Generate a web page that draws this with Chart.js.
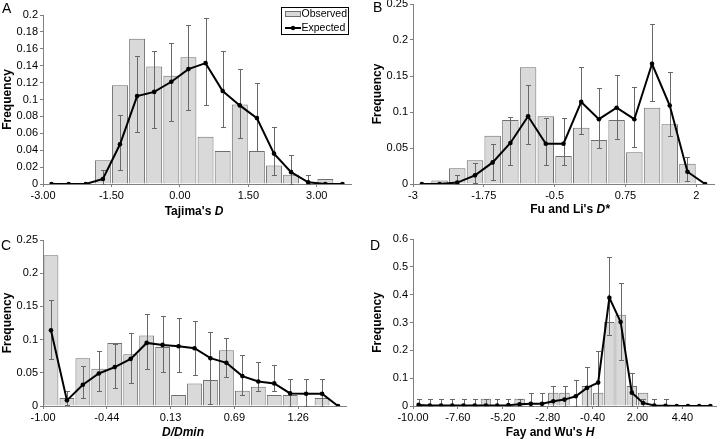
<!DOCTYPE html>
<html>
<head>
<meta charset="utf-8">
<script src="https://cdn.jsdelivr.net/npm/chart.js@4.4.0/dist/chart.umd.min.js"></script>
<style>
body { margin: 0; background: #fff; font-family: "Liberation Sans", Arial, sans-serif; }
#wrap { position: relative; width: 720px; height: 439px; overflow: hidden; }
canvas { position: absolute; }
.letter { position: absolute; font-size: 14px; line-height: 1; color: #000; }
.xtitle { position: absolute; font-size: 12px; font-weight: bold; line-height: 1; white-space: nowrap; transform: translateX(-50%); color: #000; }
</style>
</head>
<body>
<div id="wrap">
	<canvas id="chart-a" width="360" height="215" style="left:0;top:0"></canvas>
	<canvas id="chart-b" width="360" height="215" style="left:360px;top:0"></canvas>
	<canvas id="chart-c" width="360" height="224" style="left:0;top:215px"></canvas>
	<canvas id="chart-d" width="360" height="224" style="left:360px;top:215px"></canvas>
	<div class="letter" style="left:2px;top:1px">A</div>
	<div class="letter" style="left:373px;top:0">B</div>
	<div class="letter" style="left:1px;top:238px">C</div>
	<div class="letter" style="left:370px;top:238px">D</div>
	<div class="xtitle" style="left:194px;top:205px">Tajima's <i>D</i></div>
	<div class="xtitle" style="left:570px;top:203px">Fu and Li's <i>D*</i></div>
	<div class="xtitle" style="left:183px;top:426px"><i>D/Dmin</i></div>
	<div class="xtitle" style="left:550px;top:426px">Fay and Wu's <i>H</i></div>
</div>
<script>
// tick positions sit on bin boundaries, every 4th bin
var tickPos4 = [-0.5, 3.5, 7.5, 11.5, 15.5]
var tickPos7 = [-0.5, 3.5, 7.5, 11.5, 15.5, 19.5, 23.5]

// A: Tajima's D
var aTickLabels = ['-3.00', '-1.50', '0.00', '1.50', '3.00']
var aObserved = [0, 0, 0, 0.028, 0.117, 0.172, 0.139, 0.128, 0.150, 0.056, 0.039, 0.094, 0.039, 0.022, 0.011, 0, 0.006, 0]
var aExpected = [0, 0, 0, 0.006, 0.047, 0.104, 0.109, 0.121, 0.136, 0.143, 0.110, 0.093, 0.078, 0.036, 0.014, 0.002, 0, 0]
var aErrHi = [null, null, null, 0.017, 0.082, 0.151, 0.157, 0.167, 0.188, 0.196, 0.157, 0.136, 0.119, 0.067, 0.034, 0.011, null, null]
var aErrLo = [null, null, null, 0, 0.017, 0.062, 0.066, 0.074, 0.088, 0.094, 0.067, 0.054, 0.039, 0.011, 0, 0, null, null]

// B: Fu and Li's D*
var bTickLabels = ['-3', '-1.75', '-0.5', '0.75', '2']
var bObserved = [0, 0.005, 0.022, 0.033, 0.067, 0.089, 0.162, 0.094, 0.039, 0.078, 0.061, 0.089, 0.044, 0.106, 0.083, 0.028, 0]
var bExpected = [0, 0, 0.002, 0.012, 0.030, 0.057, 0.094, 0.056, 0.056, 0.114, 0.090, 0.106, 0.090, 0.167, 0.109, 0.017, 0]
var bErrHi = [null, null, 0.012, 0.029, 0.056, 0.093, 0.137, 0.091, 0.092, 0.162, 0.133, 0.152, 0.135, 0.222, 0.156, 0.038, null]
var bErrLo = [null, null, 0, 0.002, 0.006, 0.027, 0.055, 0.027, 0.027, 0.069, 0.050, 0.062, 0.051, 0.115, 0.066, 0.004, null]

// C: D/Dmin
var cTickLabels = ['-1.00', '-0.44', '0.13', '0.69', '1.26']
var cObserved = [0.227, 0.012, 0.072, 0.056, 0.095, 0.078, 0.106, 0.089, 0.0165, 0.034, 0.039, 0.084, 0.023, 0.029, 0.0165, 0.0165, 0, 0.012, 0]
var cExpected = [0.114, 0.0085, 0.032, 0.049, 0.0586, 0.071, 0.095, 0.092, 0.090, 0.087, 0.072, 0.065, 0.045, 0.037, 0.034, 0.019, 0.0185, 0.0185, 0]
var cErrHi = [0.159, 0.022, 0.060, 0.083, 0.093, 0.110, 0.138, 0.136, 0.133, 0.128, 0.112, 0.102, 0.077, 0.066, 0.061, 0.040, 0.040, 0.040, null]
var cErrLo = [0.071, 0.002, 0.0125, 0.023, 0.0275, 0.035, 0.055, 0.0506, 0.0506, 0.047, 0.003, 0.043, 0.017, 0.023, 0.023, 0, 0, 0, null]

// D: Fay and Wu's H
var dTickLabels = ['-10.00', '-7.60', '-5.20', '-2.80', '-0.40', '2.00', '4.40']
var dObserved = [0, 0, 0, 0, 0, 0, 0.026, 0, 0, 0.026, 0, 0, 0.048, 0.048, 0, 0.072, 0.048, 0.302, 0.328, 0.072, 0.048, 0, 0, 0, 0, 0, 0]
var dExpected = [0.004, 0.002, 0.002, 0.002, 0.002, 0.002, 0.002, 0.002, 0.003, 0.006, 0.008, 0.008, 0.017, 0.023, 0.035, 0.065, 0.084, 0.389, 0.302, 0.048, 0.011, 0.002, 0.001, 0, 0, 0, 0]
var dErrHi = [0.026, 0.026, 0.026, 0.026, 0.026, 0.026, 0.026, 0.026, 0.026, 0.026, 0.047, 0.047, 0.072, 0.072, 0.095, 0.140, 0.199, 0.535, 0.442, 0.117, 0.026, 0.026, 0.026, null, null, null, null]
var dErrLo = [0, 0, 0, 0, 0, 0, 0, 0, 0, 0, 0, 0, 0, 0, 0, 0, 0, 0.256, 0.164, 0, 0, 0, 0, null, null, null, null]

var axisGray = '#808080'
var tickFont = { family: '"Liberation Sans", Arial, sans-serif', size: 11 }

function errorBars(hi, lo) {
	return {
		id: 'errorBars',
		afterDatasetDraw(chart, args) {
			if (args.index !== 0) return;
			var ctx = chart.ctx, xs = chart.scales.x, ys = chart.scales.y;
			ctx.save();
			ctx.strokeStyle = '#686868';
			ctx.lineWidth = 1;
			hi.forEach(function(h, i) {
				if (h === null) return;
				var x = Math.round(xs.getPixelForValue(i)) + 0.5;
				var yTop = Math.round(ys.getPixelForValue(h)) + 0.5;
				var yBot = Math.round(ys.getPixelForValue(lo[i])) + 0.5;
				ctx.beginPath();
				ctx.moveTo(x, yBot); ctx.lineTo(x, yTop);
				ctx.moveTo(x - 2.5, yTop); ctx.lineTo(x + 2.5, yTop);
				ctx.moveTo(x - 2.5, yBot); ctx.lineTo(x + 2.5, yBot);
				ctx.stroke();
			});
			ctx.restore();
		}
	}
}

// boxed legend in the top right corner of panel A
var boxLegend = {
	id: 'boxLegend',
	afterDraw(chart) {
		var ctx = chart.ctx;
		var obs = chart.data.datasets[0], exp = chart.data.datasets[1];
		ctx.save();
		ctx.fillStyle = '#fff';
		ctx.fillRect(281.5, 7.5, 67, 27);
		ctx.strokeStyle = '#000';
		ctx.lineWidth = 1;
		ctx.strokeRect(281.5, 7.5, 67, 27);
		ctx.fillStyle = obs.backgroundColor;
		ctx.fillRect(285.5, 11.5, 15, 5);
		ctx.strokeStyle = obs.borderColor;
		ctx.strokeRect(285.5, 11.5, 15, 5);
		ctx.strokeStyle = exp.borderColor;
		ctx.lineWidth = 2;
		ctx.beginPath(); ctx.moveTo(285, 28); ctx.lineTo(301, 28); ctx.stroke();
		ctx.fillStyle = exp.pointBackgroundColor;
		ctx.beginPath(); ctx.arc(293, 28, 2.2, 0, Math.PI * 2); ctx.fill();
		ctx.fillStyle = '#000';
		ctx.font = '10.5px "Liberation Sans", Arial, sans-serif';
		ctx.textBaseline = 'middle';
		ctx.fillText(obs.label, 301.5, 14.5);
		ctx.fillText(exp.label, 301.5, 28.5);
		ctx.restore();
	}
}

function makePanel(id, p) {
	var ctx = document.getElementById(id).getContext('2d');
	var plugins = [errorBars(p.hi, p.lo)];
	if (p.legend) plugins.push(boxLegend);
	return new Chart(ctx, {
		type: 'bar',
		data: {
			datasets: [{
				type: 'bar',
				label: 'Observed',
				data: p.observed.map((v, i) => ({ x: i, y: v })),
				backgroundColor: '#d9d9d9',
				borderColor: '#6e6e6e',
				borderWidth: 1,
				barPercentage: 0.93,
				categoryPercentage: 1,
				order: 2
			}, {
				type: 'line',
				label: 'Expected',
				data: p.expected.map((v, i) => ({ x: i, y: v })),
				borderColor: '#000',
				borderWidth: 2,
				pointRadius: 2.3,
				pointBackgroundColor: '#000',
				pointBorderWidth: 0,
				tension: 0,
				order: 1
			}]
		},
		plugins: plugins,
		options: {
			responsive: false,
			animation: false,
			events: [],
			layout: { padding: p.padding },
			plugins: { legend: { display: false }, tooltip: { enabled: false } },
			scales: {
				x: {
					type: 'linear',
					offset: false,
					min: -0.5,
					max: p.observed.length - 0.5,
					afterBuildTicks: (s) => { s.ticks = p.tickPos.map(v => ({ value: v })) },
					afterFit: (s) => { s.height = p.xHeight; s.paddingLeft = 0; s.paddingRight = 0 },
					ticks: {
						autoSkip: false, maxRotation: 0, padding: 2, color: '#000', font: tickFont,
						callback: (v, i) => p.tickLabels[i]
					},
					grid: { drawOnChartArea: false, tickLength: 3, color: axisGray, offset: false },
					border: { color: axisGray }
				},
				y: {
					min: 0,
					max: p.yMax,
					afterFit: (s) => { s.width = p.yWidth; s.paddingTop = 0; s.paddingBottom = 0 },
					ticks: {
						stepSize: p.yStep, padding: 2, color: '#000', font: tickFont,
						callback: (v) => String(+v.toFixed(4))
					},
					grid: { drawOnChartArea: false, tickLength: 3, color: axisGray },
					border: { color: axisGray },
					title: {
						display: true, text: 'Frequency', color: '#000', padding: 0,
						font: { family: '"Liberation Sans", Arial, sans-serif', size: 12, weight: 'bold' }
					}
				}
			}
		}
	});
}

makePanel('chart-a', {
	observed: aObserved, expected: aExpected, hi: aErrHi, lo: aErrLo,
	tickPos: tickPos4, tickLabels: aTickLabels, yMax: 0.2, yStep: 0.02, legend: true,
	padding: { top: 15, right: 9, left: 0, bottom: 0 }, yWidth: 43, xHeight: 31
})
makePanel('chart-b', {
	observed: bObserved, expected: bExpected, hi: bErrHi, lo: bErrLo,
	tickPos: tickPos4, tickLabels: bTickLabels, yMax: 0.25, yStep: 0.05,
	padding: { top: 4, right: 6, left: 10, bottom: 0 }, yWidth: 43, xHeight: 31
})
makePanel('chart-c', {
	observed: cObserved, expected: cExpected, hi: cErrHi, lo: cErrLo,
	tickPos: tickPos4, tickLabels: cTickLabels, yMax: 0.25, yStep: 0.05,
	padding: { top: 25, right: 14, left: 0, bottom: 0 }, yWidth: 43, xHeight: 33
})
makePanel('chart-d', {
	observed: dObserved, expected: dExpected, hi: dErrHi, lo: dErrLo,
	tickPos: tickPos7, tickLabels: dTickLabels, yMax: 0.6, yStep: 0.1,
	padding: { top: 24, right: 1, left: 10, bottom: 0 }, yWidth: 43, xHeight: 33
})
</script>
</body>
</html>
